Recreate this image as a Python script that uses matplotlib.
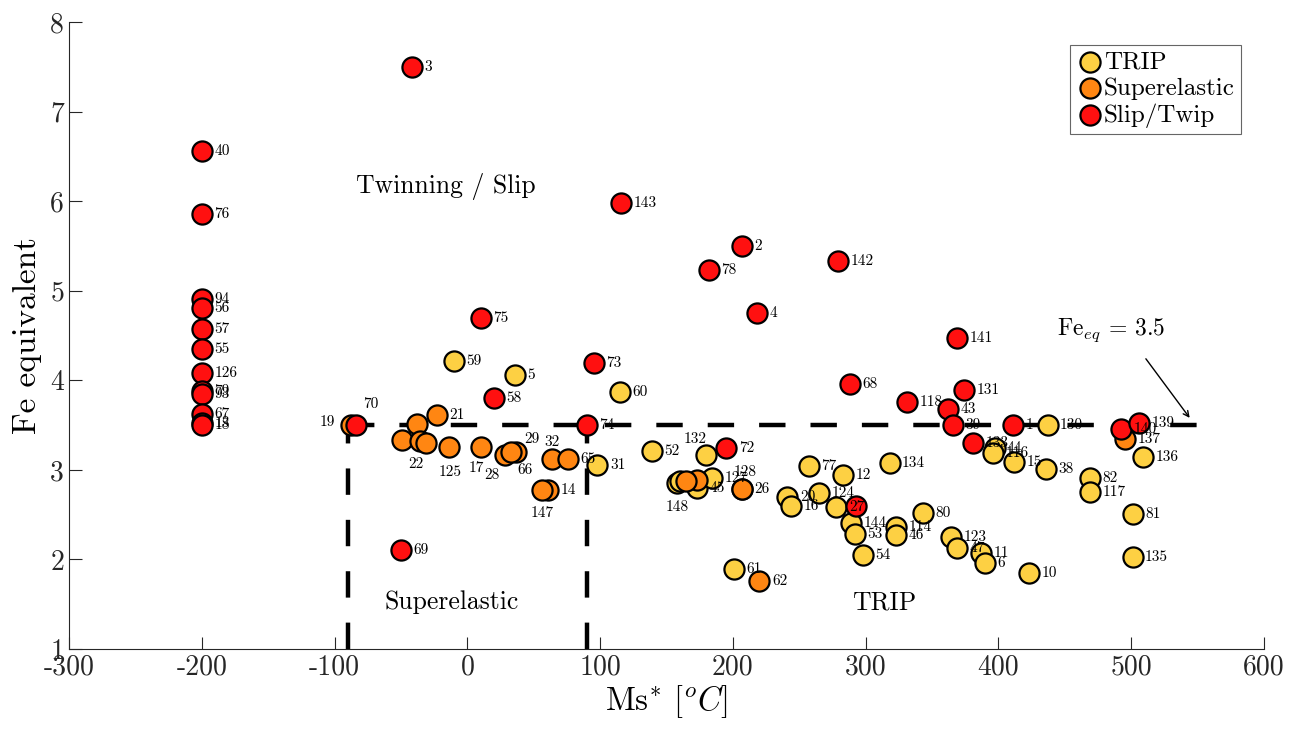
import matplotlib
matplotlib.use('Agg')
import matplotlib.pyplot as plt

plt.rcParams['font.family'] = ['cmr10', 'DejaVu Serif']
plt.rcParams['mathtext.fontset'] = 'cm'
plt.rcParams['axes.unicode_minus'] = False
plt.rcParams['lines.scale_dashes'] = False

# TRIP points
trip_id = ['59', '5', '60', '31', '52', '132', '148', '', '45', '127', '77', '12',
           '124', '20', '16', '27', '144', '53', '54', '61', '134', '80', '114', '46',
           '123', '47', '11', '6', '10', '130', '44', '116', '15', '38', '82', '117',
           '136', '81', '135']
trip_ms = [-10, 36, 115, 98, 139, 180, 158, 160, 173, 184, 257, 283,
           265, 241, 244, 278, 289, 292, 298, 201, 318, 343, 323, 323,
           364, 369, 387, 390, 423, 437, 397, 396, 412, 436, 469, 469,
           509, 501, 501]
trip_fe = [4.21, 4.06, 3.87, 3.05, 3.21, 3.17, 2.85, 2.87, 2.80, 2.91, 3.04, 2.94,
           2.74, 2.70, 2.60, 2.58, 2.41, 2.28, 2.05, 1.89, 3.08, 2.52, 2.36, 2.27,
           2.25, 2.13, 2.07, 1.96, 1.85, 3.50, 3.24, 3.19, 3.09, 3.01, 2.91, 2.75,
           3.14, 2.51, 2.03]

# Superelastic points
sup_id = ['19', '21', '', '22', '', '', '125', '17', '28', '29', '66', '32',
          '65', '14', '147', '62', '26', '128', '', '', '137']
sup_ms = [-88, -23, -38, -49, -36, -31, -14, 10, 28, 37, 33, 64,
          76, 61, 56, 220, 207, 207, 173, 165, 495]
sup_fe = [3.50, 3.61, 3.51, 3.33, 3.32, 3.30, 3.25, 3.25, 3.17, 3.20, 3.20, 3.12,
          3.12, 2.77, 2.77, 1.76, 2.79, 2.79, 2.89, 2.88, 3.34]

# Slip / Twip points
slip_id = ['3', '40', '76', '94', '56', '57', '55', '126', '79', '93', '67', '13',
           '18', '75', '143', '2', '78', '142', '4', '141', '73', '68', '131', '118',
           '43', '39', '58', '70', '74', '1', '72', '133', '', '69', '140', '139']
slip_ms = [-42, -200, -200, -200, -200, -200, -200, -200, -200, -200, -200, -200,
           -200, 10, 116, 207, 182, 279, 218, 369, 95, 288, 374, 331,
           362, 366, 20, -84, 90, 411, 195, 381, 293, -50, 492, 506]
slip_fe = [7.50, 6.56, 5.86, 4.91, 4.81, 4.57, 4.35, 4.08, 3.88, 3.85, 3.62, 3.52,
           3.50, 4.69, 5.98, 5.50, 5.23, 5.33, 4.75, 4.47, 4.19, 3.96, 3.89, 3.76,
           3.68, 3.50, 3.80, 3.50, 3.50, 3.50, 3.24, 3.30, 2.60, 2.10, 3.46, 3.52]

fe_limit = 3.5
ms_limits = [-90, 90]
fe_line_end = 550

# labels that sit somewhere other than right of the marker (offset in points, centred)
label_offsets = {
    '19': (-17, 2), '70': (11, 15), '22': (10, -17), '125': (1, -18),
    '17': (-3, -15), '28': (-9, -15), '66': (10, -13), '29': (11, 9),
    '32': (0, 12), '147': (0, -16), '132': (-8, 11), '148': (0, -17),
    '128': (2, 12),
}

fig = plt.figure(figsize=(12.95, 7.31), dpi=100)
ax = fig.add_axes([0.0533, 0.1122, 0.9228, 0.8577])

# guide lines
ax.plot([ms_limits[0], fe_line_end], [fe_limit, fe_limit], color='k', lw=3.2,
        dashes=(19, 18), zorder=1)
for m in ms_limits:
    ax.plot([m, m], [1, fe_limit], color='k', lw=3.2, dashes=(19, 18), zorder=1)

groups = [
    (trip_ms, trip_fe, trip_id, '#FDD043', 'TRIP'),
    (sup_ms, sup_fe, sup_id, '#FF8612', 'Superelastic'),
    (slip_ms, slip_fe, slip_id, '#FF1010', 'Slip/Twip'),
]
for ms, fe, ids, col, name in groups:
    ax.scatter(ms, fe, s=210, c=col, edgecolors='k', linewidths=1.6, label=name,
               zorder=3)
    for x, y, t in zip(ms, fe, ids):
        if not t:
            continue
        if t in label_offsets:
            ax.annotate(t, (x, y), xytext=label_offsets[t], textcoords='offset points',
                        ha='center', va='center', fontsize=11, zorder=4)
        else:
            ax.annotate(t, (x, y), xytext=(9, 0), textcoords='offset points',
                        ha='left', va='center', fontsize=11, zorder=4)

# region names
ax.text(-16, 6.16, 'Twinning / Slip', ha='center', va='center', fontsize=18.5)
ax.text(-12, 1.52, 'Superelastic', ha='center', va='center', fontsize=18.5)
ax.text(314, 1.52, 'TRIP', ha='center', va='center', fontsize=18.5)
ax.text(444, 4.56, r'Fe$_{eq}$ = 3.5', fontsize=17, ha='left', va='center')
ax.annotate('', xy=(544, 3.58), xytext=(511, 4.24),
            arrowprops=dict(arrowstyle='->', lw=1, color='k',
                            shrinkA=0, shrinkB=0))

ax.set_xlim(-300, 600)
ax.set_ylim(1, 8)
xt = [-300, -200, -100, 0, 100, 200, 300, 400, 500, 600]
ax.set_xticks(xt)
ax.set_xticklabels([str(v) for v in xt])
ax.set_yticks(range(1, 9))
ax.set_yticklabels([str(v) for v in range(1, 9)])
ax.tick_params(direction='in', length=9, width=0.8, labelsize=20, colors='#262626')
for side in ['top', 'right']:
    ax.spines[side].set_visible(False)
for side in ['left', 'bottom']:
    ax.spines[side].set_color('#262626')
ax.set_xlabel(r'Ms$^{*}$ [$^{o}C$]', fontsize=23.5, labelpad=2)
ax.set_ylabel('Fe equivalent', fontsize=24, labelpad=6)

leg = ax.legend(loc='upper right', fontsize=18, handletextpad=0.0,
                borderpad=0.25, labelspacing=0.15, handlelength=1.1,
                fancybox=False, edgecolor='#666666', framealpha=1,
                bbox_to_anchor=(0.991, 0.984))
leg.get_frame().set_linewidth(0.8)

fig.savefig('out.png', dpi=100)
